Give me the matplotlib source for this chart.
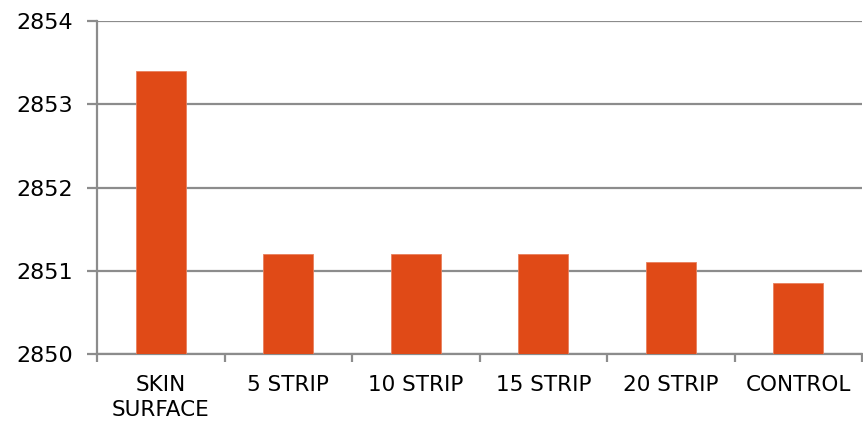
import matplotlib
matplotlib.use("Agg")
import matplotlib.pyplot as plt
import numpy as np

categories = ["SKIN\nSURFACE", "5 STRIP", "10 STRIP", "15 STRIP", "20 STRIP", "CONTROL"]
values = [2853.4, 2851.2, 2851.2, 2851.2, 2851.1, 2850.85]
y_ticks = [2850, 2851, 2852, 2853, 2854]

plt.rcParams["font.family"] = ["DejaVu Sans"]

fig = plt.figure(figsize=(8.63, 4.26), dpi=100)
ax = fig.add_axes([97 / 863, 1 - 354 / 426, (862 - 97) / 863, (354 - 21) / 426])

grid_color = "#8c8c8c"
bar_color = "#e04a17"

x = np.arange(len(categories))
ax.bar(x, np.array(values) - y_ticks[0], bottom=y_ticks[0], width=0.39,
       color=bar_color, edgecolor="#e8805d", linewidth=0.6, zorder=3)

ax.set_xlim(-0.5, len(categories) - 0.5)
ax.set_ylim(y_ticks[0], y_ticks[-1])
ax.set_yticks(y_ticks)
ax.set_yticklabels([str(t) for t in y_ticks], fontsize=16)

ax.yaxis.grid(True, color=grid_color, linewidth=1.6, zorder=1)
ax.set_axisbelow(True)

# category labels centred under bars, ticks on category boundaries
ax.set_xticks(x)
ax.set_xticklabels(categories, fontsize=15.5, linespacing=1.3)
ax.tick_params(axis="x", which="major", length=0, pad=15)
ax.set_xticks(np.arange(len(categories) + 1) - 0.5, minor=True)
ax.tick_params(axis="x", which="minor", length=6, width=1.6, color=grid_color, direction="out")
ax.tick_params(axis="y", length=7, width=1.6, color=grid_color, pad=10)

for side in ["top", "right"]:
    ax.spines[side].set_visible(False)
for side in ["left", "bottom"]:
    ax.spines[side].set_color(grid_color)
    ax.spines[side].set_linewidth(1.6)

fig.savefig("out.png", dpi=100)
